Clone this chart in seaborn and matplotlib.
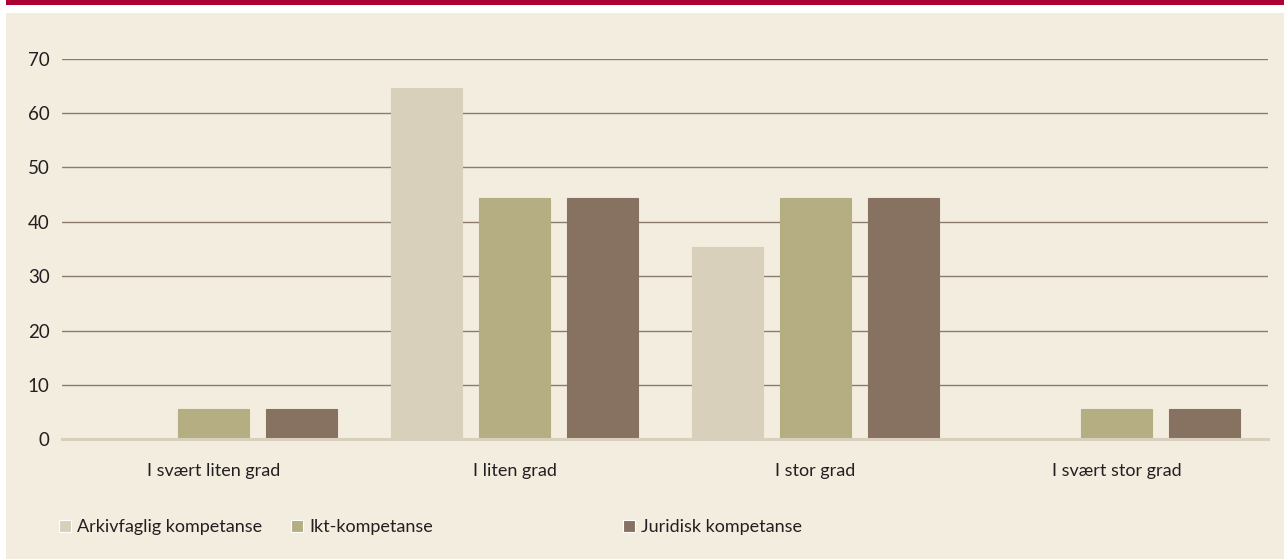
import matplotlib
matplotlib.use("Agg")
import matplotlib.pyplot as plt
import seaborn as sns
import pandas as pd
from matplotlib.patches import Rectangle

categories = ["I svært liten grad", "I liten grad", "I stor grad", "I svært stor grad"]
series_names = ["Arkivfaglig kompetanse", "Ikt-kompetanse", "Juridisk kompetanse"]
arkivfaglig = [0, 64.7, 35.3, 0]
ikt = [5.6, 44.4, 44.4, 5.6]
juridisk = [5.6, 44.4, 44.4, 5.6]
yticks = [0, 10, 20, 30, 40, 50, 60, 70]

colors = ["#d8d0bb", "#b5ae83", "#877261"]
BG = "#f3ede0"
RED = "#ad0033"
TXT = "#231f20"

rows = []
for name, vals in zip(series_names, [arkivfaglig, ikt, juridisk]):
    for c, v in zip(categories, vals):
        rows.append({"kategori": c, "serie": name, "verdi": v})
df = pd.DataFrame(rows)

sns.set_theme(style="white")
plt.rcParams["font.family"] = ["Lato", "DejaVu Sans"]
FS = 13

W, H = 1284, 559
fig = plt.figure(figsize=(W / 100, H / 100), dpi=100)
fig.patch.set_facecolor("white")
# decorative frame: red top band and beige panel
fig.patches.append(Rectangle((6 / W, 0), 1 - 6 / W, (H - 13) / H, transform=fig.transFigure,
                             facecolor=BG, edgecolor="none", zorder=-10))
fig.patches.append(Rectangle((6 / W, 1 - 5 / H), 1 - 6 / W, 5 / H, transform=fig.transFigure,
                             facecolor=RED, edgecolor="none", zorder=-10))

x0, x1 = 62, 1268
y0, y70 = 439.3, 58.7
ax = fig.add_axes([x0 / W, (H - y0) / H, (x1 - x0) / W, (y0 - y70) / H])
ax.set_facecolor("none")

sns.barplot(data=df, x="kategori", y="verdi", hue="serie", order=categories,
            hue_order=series_names, palette=colors, width=0.877, gap=0.19,
            saturation=1, ax=ax, legend=True, linewidth=0.8,
            edgecolor=None)
for cont, col in zip(ax.containers, colors):
    for b in cont:
        b.set_edgecolor(col)

ax.set_xlim(-0.503, 3.503)
ax.set_ylim(0, 70)
ax.set_yticks(yticks)
ax.set_xlabel("")
ax.set_ylabel("")
ax.set_axisbelow(True)
ax.yaxis.grid(True, color="#8b7b6b", linewidth=1)
ax.xaxis.grid(False)
for s in ["top", "left", "right"]:
    ax.spines[s].set_visible(False)
ax.spines["bottom"].set_color("#d8d0bc")
ax.spines["bottom"].set_linewidth(2.2)
ax.tick_params(axis="y", length=0, pad=9, labelsize=FS + 0.5, labelcolor=TXT)
ax.tick_params(axis="x", length=0, pad=17, labelsize=FS, labelcolor=TXT)

handles, labels = ax.get_legend_handles_labels()
ax.get_legend().remove()
# legend entries placed individually (uneven spacing as in the original)
legend_x = [52, 284, 616]
for h, l, lx in zip(handles, labels, legend_x):
    leg = fig.legend([h], [l], loc="center left", bbox_to_anchor=(lx / W, 1 - 527 / H),
                     frameon=False, fontsize=FS, handlelength=0.65, handleheight=0.65,
                     handletextpad=0.35, labelcolor=TXT, borderpad=0, borderaxespad=0.4)

fig.savefig("out.png", dpi=100)
